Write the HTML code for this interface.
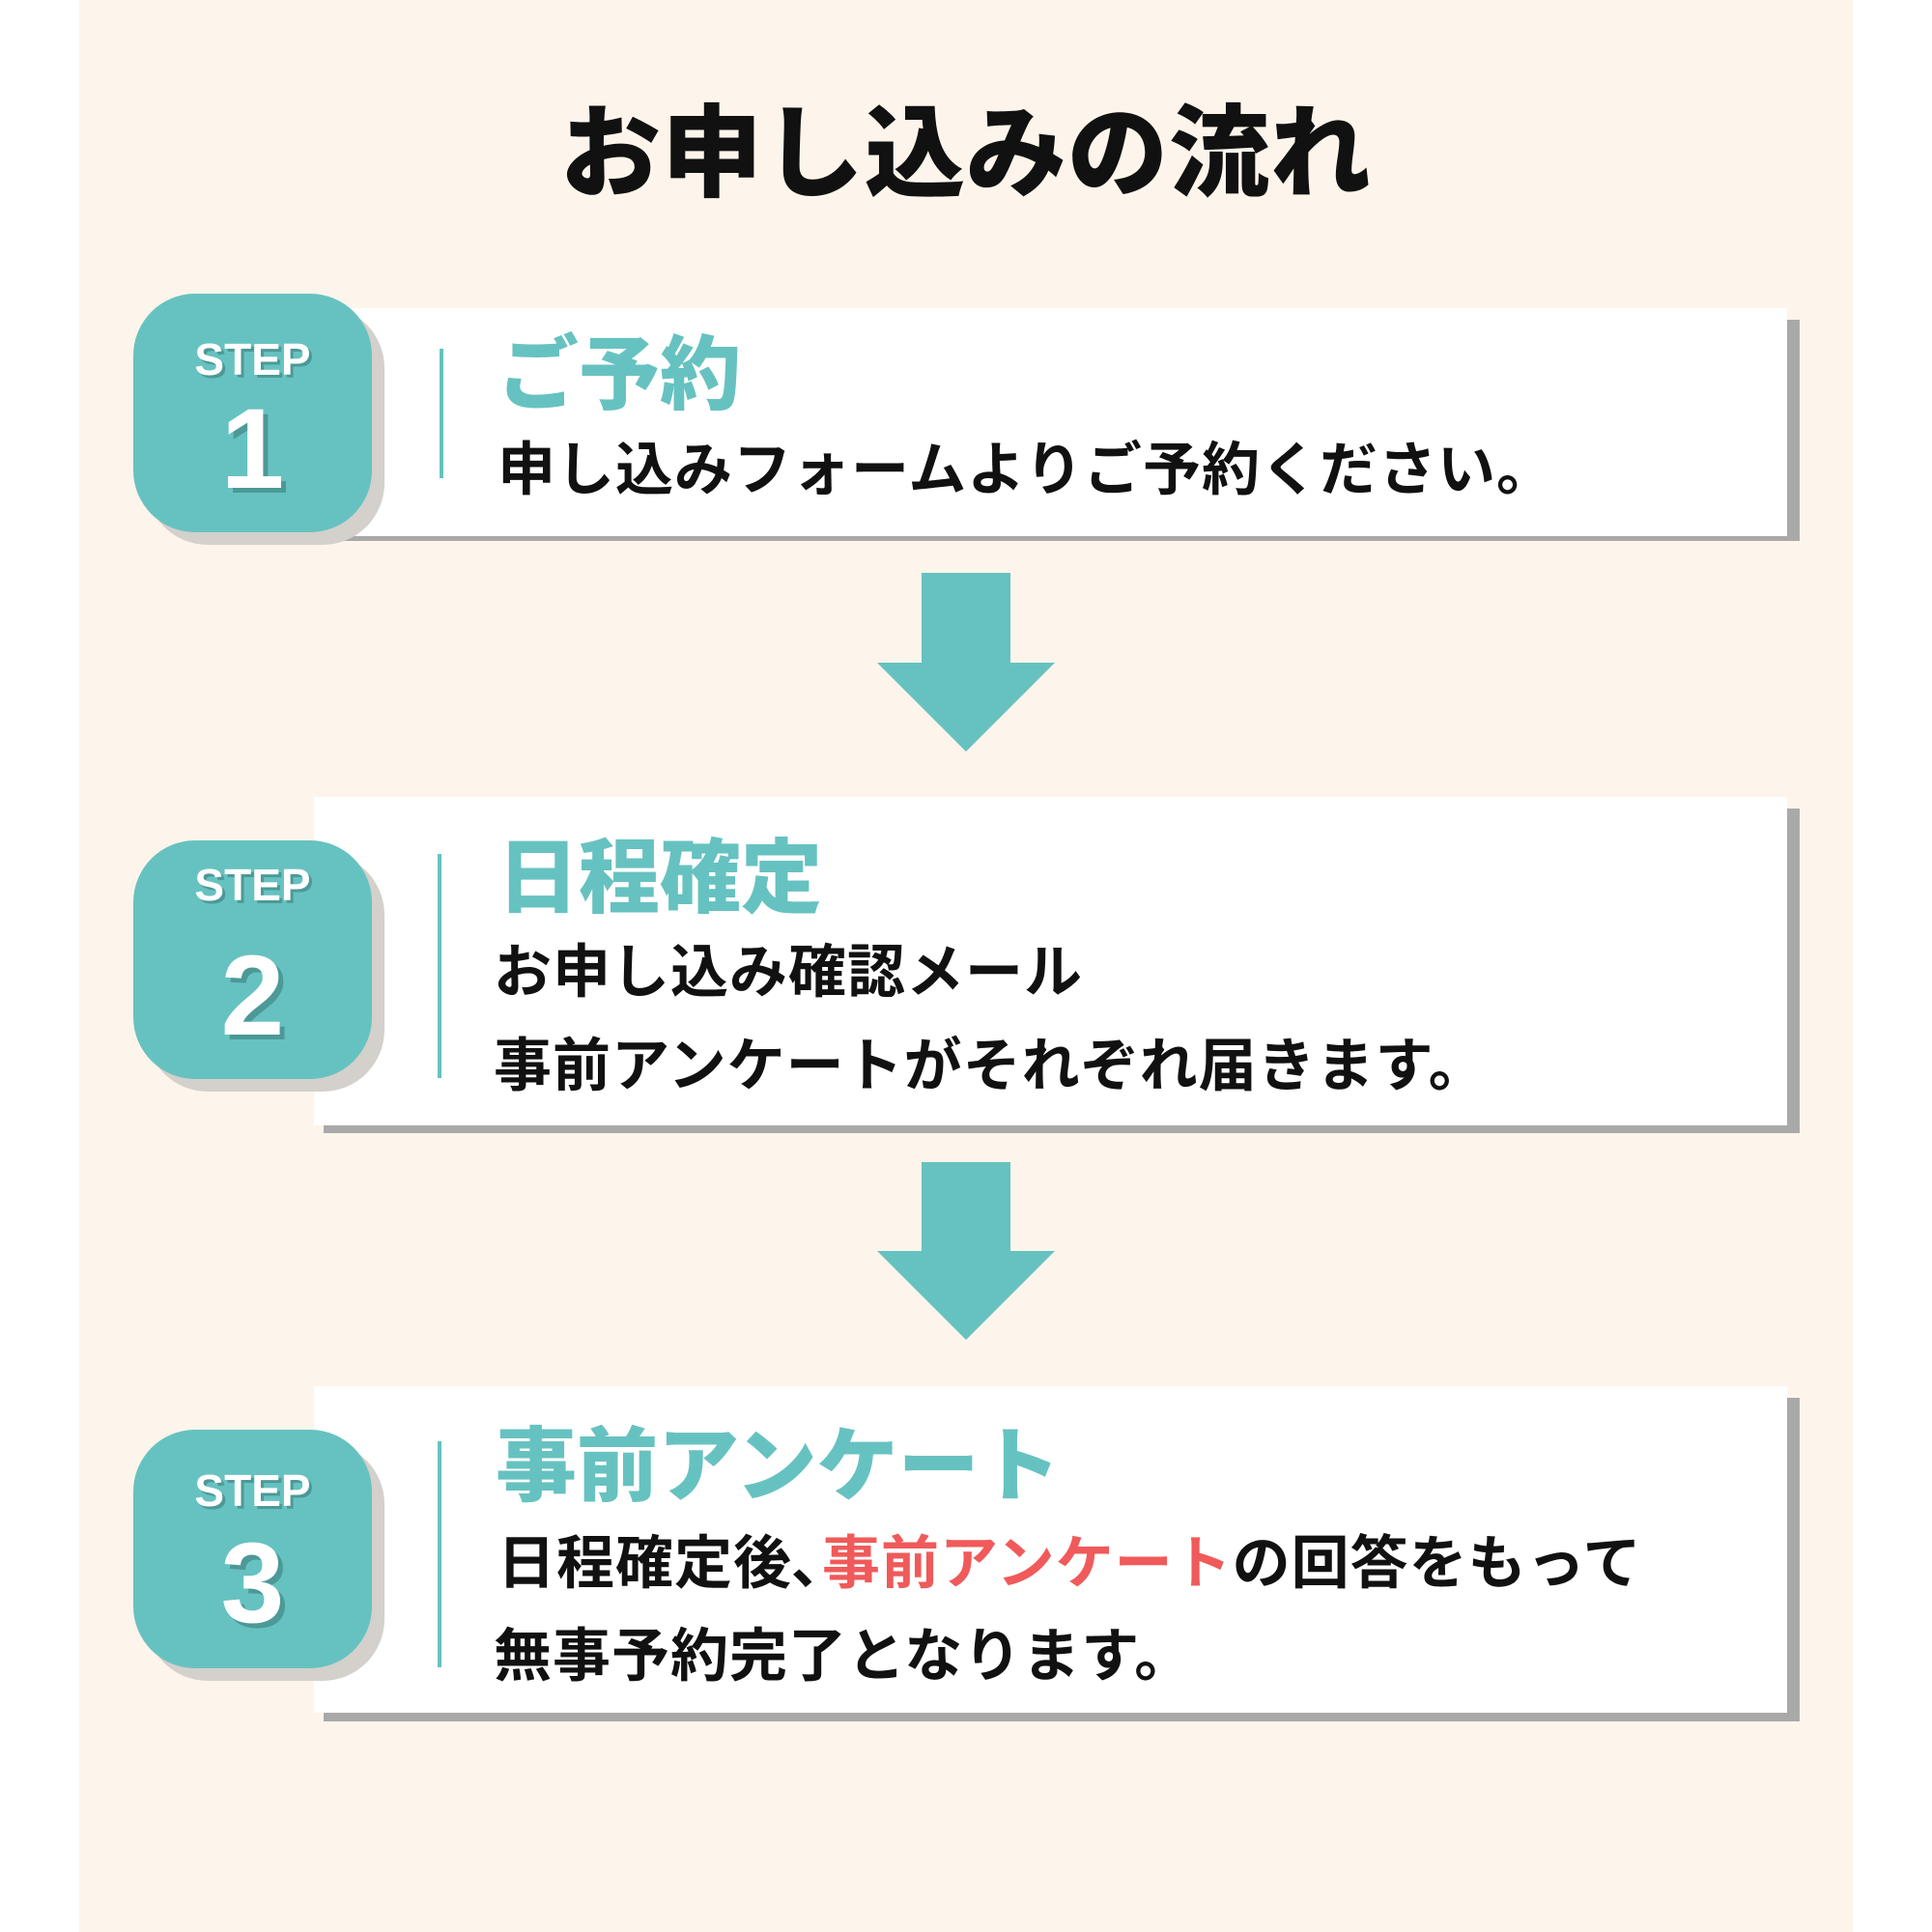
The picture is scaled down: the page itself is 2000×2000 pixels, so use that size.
<!DOCTYPE html>
<html><head><meta charset="utf-8"><style>
*{margin:0;padding:0;box-sizing:border-box}
body{width:2000px;height:2000px;background:#fff;position:relative;overflow:hidden;font-family:"Liberation Sans","Noto Sans CJK JP",sans-serif}
.bg{position:absolute;left:82px;top:0;width:1836px;height:2000px;background:#fdf5eb}
.abs{position:absolute}
.title{left:0;width:2000px;text-align:center;top:100px;font-size:104px;line-height:120px;font-weight:900;color:#111;letter-spacing:1px}
.sh{background:#a9a9a9}
.box{background:#fff}
.badge{background:#66c2c0;border-radius:64px;width:247px;height:247px;color:#fff;text-align:center}
.bsh{background:#d4d0cb;border-radius:64px;width:247px;height:247px}
.step{position:absolute;left:0;width:100%;font-size:46px;font-weight:700;line-height:50px;text-shadow:3px 3px 0 #4c9997}
.num{position:absolute;left:0;width:100%;font-size:118px;font-weight:700;line-height:120px;text-shadow:5px 5px 0 #4c9997}
.vl{width:4px;background:#66c2c0}
.h{font-size:84px;line-height:90px;font-weight:900;color:#66c2c0;white-space:nowrap}
.t{font-size:60px;line-height:64px;font-weight:700;color:#111;white-space:nowrap;letter-spacing:1px}
.r{color:#f05a5a}
</style></head><body>
<div class="bg"></div>
<div class="abs title">お申し込みの流れ</div>

<div class="abs sh" style="left:335px;top:331px;width:1528px;height:229px"></div>
<div class="abs box" style="left:325px;top:319px;width:1525px;height:236px"></div>
<div class="abs bsh" style="left:151px;top:317px"></div>
<div class="abs badge" style="left:138px;top:304px"><div class="step" style="top:43px">STEP</div><div class="num" style="top:101px">1</div></div>
<div class="abs vl" style="left:455px;top:361px;height:134px"></div>
<div class="abs h" style="left:515px;top:343px">ご予約</div>
<div class="abs t" style="left:515px;top:455px">申し込みフォームよりご予約ください。</div>

<svg class="abs" style="left:0;top:0" width="2000" height="2000">
<polygon fill="#66c2c0" points="954,593 1046,593 1046,686 1092,686 1000,778 908,686 954,686"/>
<polygon fill="#66c2c0" points="954,1203 1046,1203 1046,1295 1092,1295 1000,1387 908,1295 954,1295"/>
</svg>

<div class="abs sh" style="left:335px;top:837px;width:1528px;height:336px"></div>
<div class="abs box" style="left:325px;top:825px;width:1525px;height:340px"></div>
<div class="abs bsh" style="left:151px;top:883px"></div>
<div class="abs badge" style="left:138px;top:870px"><div class="step" style="top:21px">STEP</div><div class="num" style="top:101px">2</div></div>
<div class="abs vl" style="left:453px;top:884px;height:232px"></div>
<div class="abs h" style="left:515px;top:864px">日程確定</div>
<div class="abs t" style="left:511px;top:975px">お申し込み確認メール</div>
<div class="abs t" style="left:511px;top:1072px">事前アンケートがそれぞれ届きます。</div>

<div class="abs sh" style="left:335px;top:1447px;width:1528px;height:335px"></div>
<div class="abs box" style="left:325px;top:1435px;width:1525px;height:338px"></div>
<div class="abs bsh" style="left:151px;top:1493px"></div>
<div class="abs badge" style="left:138px;top:1480px"><div class="step" style="top:38px">STEP</div><div class="num" style="top:99px">3</div></div>
<div class="abs vl" style="left:453px;top:1492px;height:234px"></div>
<div class="abs h" style="left:513px;top:1473px">事前アンケート</div>
<div class="abs t" style="left:515px;top:1587px">日程確定後､<span class="r">事前アンケート</span>の回答をもって</div>
<div class="abs t" style="left:511px;top:1683px">無事予約完了となります。</div>
</body></html>
